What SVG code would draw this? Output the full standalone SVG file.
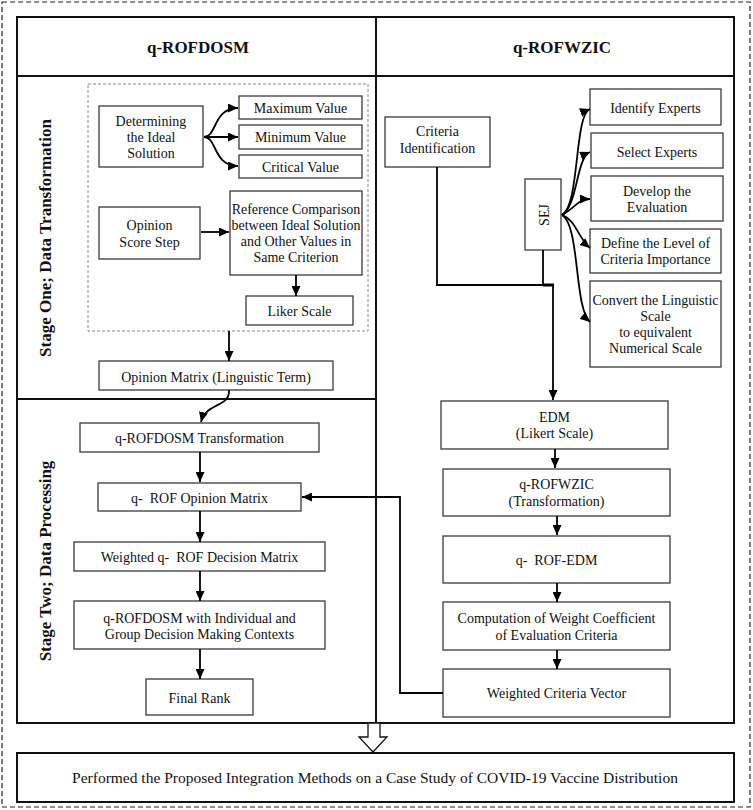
<svg xmlns="http://www.w3.org/2000/svg" width="753" height="810" viewBox="0 0 753 810">
<defs>
<style>
.t{font-family:"Liberation Serif","Times New Roman",serif;font-size:14px;fill:#111;text-anchor:middle}
.h{font-family:"Liberation Serif","Times New Roman",serif;font-size:17px;font-weight:bold;fill:#111;text-anchor:middle}
.b{fill:#fff;stroke:#3a3a3a;stroke-width:1.3}
.c{fill:none;stroke:#000;stroke-width:1.8}
.a{marker-end:url(#ah)}
</style>
<marker id="ah" markerUnits="userSpaceOnUse" markerWidth="10" markerHeight="9" refX="10" refY="4.5" orient="auto">
<path d="M0,0 L10,4.5 L0,9 z" fill="#000"/>
</marker>
</defs>
<rect width="753" height="810" fill="#fff"/>
<rect x="2" y="2" width="748" height="805" fill="none" stroke="#222" stroke-width="1.2" stroke-dasharray="5 3"/>

<g id="frame">
<rect x="17" y="17" width="717" height="706" fill="none" stroke="#111" stroke-width="2"/>
<line x1="376" y1="17" x2="376" y2="723" stroke="#111" stroke-width="2"/>
<line x1="17" y1="76" x2="734" y2="76" stroke="#111" stroke-width="2"/>
<line x1="17" y1="399" x2="376" y2="399" stroke="#111" stroke-width="2"/>
<text class="h" x="198" y="53">q-ROFDOSM</text>
<text class="h" x="562" y="53">q-ROFWZIC</text>
<text class="h" transform="translate(51,238) rotate(-90)">Stage One; Data Transformation</text>
<text class="h" transform="translate(51,561) rotate(-90)">Stage Two; Data Processing</text>
<rect x="88" y="84" width="280" height="247" fill="none" stroke="#888" stroke-width="1" stroke-dasharray="3 2"/>
</g>

<g id="determining"><rect class="b" x="99" y="106" width="104" height="61"/><text class="t" x="151" y="126">Determining</text><text class="t" x="151" y="142">the Ideal</text><text class="t" x="151" y="158">Solution</text></g>
<g id="maximum"><rect class="b" x="239" y="96" width="123" height="23"/><text class="t" x="300.5" y="113">Maximum Value</text></g>
<g id="minimum"><rect class="b" x="239" y="125" width="123" height="24"/><text class="t" x="300.5" y="142">Minimum Value</text></g>
<g id="critical"><rect class="b" x="239" y="155" width="123" height="23"/><text class="t" x="300.5" y="172">Critical Value</text></g>
<g id="opinion-score"><rect class="b" x="99" y="207" width="101" height="52"/><text class="t" x="149.5" y="230">Opinion</text><text class="t" x="149.5" y="247">Score Step</text></g>
<g id="reference"><rect class="b" x="230" y="191" width="132" height="84"/><text class="t" x="296" y="214">Reference Comparison</text><text class="t" x="296" y="230">between Ideal Solution</text><text class="t" x="296" y="246">and Other Values in</text><text class="t" x="296" y="262">Same Criterion</text></g>
<g id="liker"><rect class="b" x="246" y="296" width="107" height="29"/><text class="t" x="299.5" y="316">Liker Scale</text></g>
<g id="opinion-matrix"><rect class="b" x="99" y="361" width="234" height="29"/><text class="t" x="216" y="382">Opinion Matrix (Linguistic Term)</text></g>
<g id="transformation"><rect class="b" x="80" y="423" width="239" height="29"/><text class="t" x="199.5" y="443">q-ROFDOSM Transformation</text></g>
<g id="rof-opinion"><rect class="b" x="98" y="483" width="203" height="28"/><text class="t" x="199.5" y="503">q-&#160; ROF Opinion Matrix</text></g>
<g id="weighted-decision"><rect class="b" x="74" y="542" width="251" height="29"/><text class="t" x="199.5" y="562">Weighted q-&#160; ROF Decision Matrix</text></g>
<g id="group-decision"><rect class="b" x="74" y="601" width="251" height="48"/><text class="t" x="199.5" y="623">q-ROFDOSM with Individual and</text><text class="t" x="199.5" y="639">Group Decision Making Contexts</text></g>
<g id="final-rank"><rect class="b" x="146" y="679" width="107" height="36"/><text class="t" x="199.5" y="703">Final Rank</text></g>

<g id="criteria-id"><rect class="b" x="385" y="117" width="105" height="50"/><text class="t" x="437.5" y="136">Criteria</text><text class="t" x="437.5" y="153">Identification</text></g>
<g id="sej"><rect class="b" x="525" y="179" width="36" height="71"/><text class="t" transform="translate(549,215) rotate(-90)">SEJ</text></g>
<g id="identify"><rect class="b" x="590" y="89" width="131" height="36"/><text class="t" x="655.5" y="113">Identify Experts</text></g>
<g id="select"><rect class="b" x="591" y="133" width="132" height="35"/><text class="t" x="657" y="157">Select Experts</text></g>
<g id="develop"><rect class="b" x="591" y="176" width="132" height="45"/><text class="t" x="657" y="196">Develop the</text><text class="t" x="657" y="212">Evaluation</text></g>
<g id="define"><rect class="b" x="590" y="229" width="131" height="44"/><text class="t" x="655.5" y="248">Define the Level of</text><text class="t" x="655.5" y="264">Criteria Importance</text></g>
<g id="convert"><rect class="b" x="590" y="281" width="131" height="86"/><text class="t" x="655.5" y="305">Convert the Linguistic</text><text class="t" x="655.5" y="321">Scale</text><text class="t" x="655.5" y="337">to equivalent</text><text class="t" x="655.5" y="353">Numerical Scale</text></g>
<g id="edm"><rect class="b" x="441" y="401" width="227" height="48"/><text class="t" x="554.5" y="422">EDM</text><text class="t" x="554.5" y="438">(Likert Scale)</text></g>
<g id="wzic"><rect class="b" x="443" y="469" width="227" height="47"/><text class="t" x="556.5" y="489">q-ROFWZIC</text><text class="t" x="556.5" y="506">(Transformation)</text></g>
<g id="rof-edm"><rect class="b" x="443" y="536" width="227" height="47"/><text class="t" x="556.5" y="565">q-&#160; ROF-EDM</text></g>
<g id="computation"><rect class="b" x="443" y="602" width="227" height="48"/><text class="t" x="556.5" y="623">Computation of Weight Coefficient</text><text class="t" x="556.5" y="640">of Evaluation Criteria</text></g>
<g id="weighted-vector"><rect class="b" x="443" y="669" width="227" height="48"/><text class="t" x="556.5" y="698">Weighted Criteria Vector</text></g>

<g id="case-study"><rect x="17" y="753" width="717" height="49" fill="#fff" stroke="#111" stroke-width="2"/><text class="t" style="font-size:15.5px" x="375" y="783">Performed the Proposed Integration Methods on a Case Study of COVID-19 Vaccine Distribution</text></g>

<g id="connectors">
<path class="c a" d="M204,137 C217,137 213,108 238,108"/>
<path class="c a" d="M204,137 L238,137"/>
<path class="c a" d="M204,137 C217,137 213,166 238,166"/>
<path class="c a" d="M201,232 L229,232"/>
<path class="c a" d="M296,275 L296,296"/>
<path class="c a" d="M229,331 L229,361"/>
<path class="c a" d="M229,390 C230,408 206,402 201,422"/>
<path class="c a" d="M200,452 L200,482"/>
<path class="c a" d="M200,511 L200,542"/>
<path class="c a" d="M200,571 L200,601"/>
<path class="c a" d="M200,649 L200,679"/>
<path class="c" d="M437,167 L437,285 L553,285"/>
<path class="c" d="M543,250 L543,285"/>
<path d="M543,285 L554,285" stroke="#000" stroke-width="3" fill="none"/>
<path class="c a" d="M553,284 L553,400"/>
<path class="c a" d="M562,215 C580,205 574,115 590,109"/>
<path class="c a" d="M562,215 C578,205 576,158 590,152"/>
<path class="c a" d="M562,215 C575,208 578,199 590,199"/>
<path class="c a" d="M562,215 C576,220 578,238 590,248"/>
<path class="c a" d="M562,215 C580,225 574,308 590,322"/>
<path class="c a" d="M555,449 L555,468"/>
<path class="c a" d="M557,516 L557,535"/>
<path class="c a" d="M557,583 L557,602"/>
<path class="c a" d="M557,650 L557,669"/>
<path class="c a" d="M443,693 L400,693 L400,497 L302,497"/>
<polygon points="368,723 380,723 380,737 387,737 373,752 359,737 368,737" fill="#fff" stroke="#111" stroke-width="1.3"/>
</g>
</svg>
